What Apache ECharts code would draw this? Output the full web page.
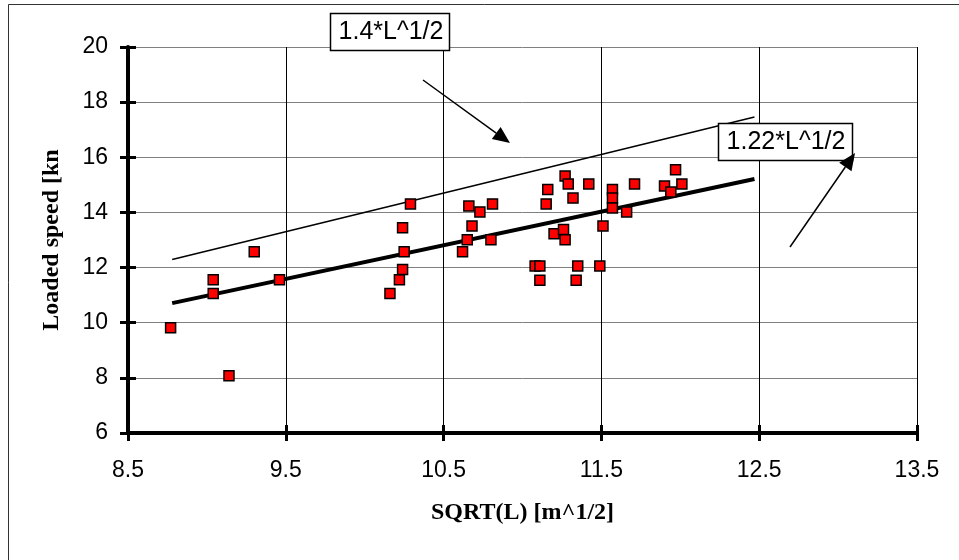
<!DOCTYPE html>
<html>
<head>
<meta charset="utf-8">
<script src="https://cdn.jsdelivr.net/npm/echarts@6/dist/echarts.min.js"></script>
<style>
html,body{margin:0;padding:0;background:#fff;}
#chart{width:959px;height:560px;}
</style>
</head>
<body>
<div id="chart"></div>
<script>
// Observed ships: [sqrt(L), loaded speed]
var shipSqrtL = [8.77, 9.04, 9.04, 9.14, 9.30, 9.46, 10.16, 10.22, 10.24, 10.25, 10.24, 10.29,
  10.62, 10.65, 10.66, 10.68, 10.73, 10.80, 10.81, 11.08, 11.11, 11.11, 11.15, 11.16, 11.20,
  11.26, 11.27, 11.27, 11.29, 11.32, 11.34, 11.35, 11.42, 11.49, 11.51, 11.57, 11.57, 11.57,
  11.66, 11.71, 11.90, 11.94, 11.97, 12.01];
var shipSpeed = [9.82, 11.56, 11.06, 8.08, 12.57, 11.56, 11.06, 11.56, 11.93, 12.57, 13.44, 14.31,
  12.57, 13.01, 14.23, 13.51, 14.02, 13.01, 14.31, 12.06, 12.06, 11.54, 14.31, 14.83, 13.23,
  13.38, 13.01, 15.32, 15.03, 14.52, 11.54, 12.06, 15.03, 12.06, 13.51, 14.83, 14.52, 14.16,
  14.02, 15.03, 14.96, 14.74, 15.55, 15.03];
// Reference lines 1.4*L^1/2 and 1.22*L^1/2 (read at their ends)
var lineX = [8.78, 12.47];
var upperLineY = [12.29, 17.46];
var lowerLineY = [10.71, 15.21];
var xTicks = [8.5, 9.5, 10.5, 11.5, 12.5, 13.5];
var yTicks = [6, 8, 10, 12, 14, 16, 18, 20];

var chart = echarts.init(document.getElementById('chart'), null, {renderer: 'canvas'});

var pts = shipSqrtL.map(function (x, i) { return [x, shipSpeed[i]]; });
var upper = lineX.map(function (x, i) { return [x, upperLineY[i]]; });
var lower = lineX.map(function (x, i) { return [x, lowerLineY[i]]; });

var sans = '"Liberation Sans", Arial, sans-serif';
var serif = '"Liberation Serif", "Times New Roman", serif';

function arrow(x0, y0, x1, y1) {
  var dx = x1 - x0, dy = y1 - y0, len = Math.sqrt(dx * dx + dy * dy);
  var ux = dx / len, uy = dy / len, hl = 17, hw = 7.5;
  var bx = x1 - ux * hl, by = y1 - uy * hl;
  return [
    {type: 'line', shape: {x1: x0, y1: y0, x2: bx, y2: by}, style: {stroke: '#000', lineWidth: 1.5}, z: 20},
    {type: 'polygon', shape: {points: [[x1, y1], [bx - uy * hw, by + ux * hw], [bx + uy * hw, by - ux * hw]]},
      style: {fill: '#000'}, z: 20}
  ];
}

var graphics = [
  {type: 'rect', shape: {x: 8.5, y: 4.5, width: 1000, height: 1000}, style: {fill: null, stroke: '#333', lineWidth: 1}, z: 0, silent: true},
  {type: 'rect', shape: {x: 330.5, y: 13.5, width: 119, height: 37}, style: {fill: '#fff', stroke: '#000', lineWidth: 1.5}, z: 20},
  {type: 'text', x: 391, y: 32, style: {text: '1.4*L^1/2', fill: '#000', font: '25px ' + sans, align: 'center', verticalAlign: 'middle'}, z: 21},
  {type: 'rect', shape: {x: 718.5, y: 123.5, width: 134, height: 37}, style: {fill: '#fff', stroke: '#000', lineWidth: 1.5}, z: 20},
  {type: 'text', x: 786, y: 142, style: {text: '1.22*L^1/2', fill: '#000', font: '25px ' + sans, align: 'center', verticalAlign: 'middle'}, z: 21}
].concat(arrow(423, 80, 510, 143)).concat(arrow(790, 247, 855, 153));

var option = {
  animation: false,
  backgroundColor: '#fff',
  grid: {left: 128, top: 47, width: 789, height: 386, containLabel: false},
  xAxis: [{
    type: 'value', min: 8.5, max: 13.5,
    name: 'SQRT(L) [m^1/2]', nameLocation: 'middle', nameGap: 68,
    nameTextStyle: {fontFamily: serif, fontWeight: 'bold', fontSize: 24, color: '#000'},
    axisLine: {show: true, onZero: false, lineStyle: {color: '#000', width: 4}},
    axisTick: {show: true, inside: false, length: 8, customValues: xTicks, lineStyle: {color: '#000', width: 3}},
    axisLabel: {customValues: xTicks, margin: 26, formatter: function (v) { return v.toFixed(1); }, fontFamily: sans, fontSize: 23, color: '#000'},
    splitLine: {show: true, lineStyle: {color: '#000', width: 1}}
  }, {
    type: 'value', min: 8.5, max: 13.5, position: 'bottom', offset: 0,
    axisLine: {show: false},
    axisTick: {show: true, inside: true, length: 8, customValues: xTicks, lineStyle: {color: '#000', width: 3}},
    axisLabel: {show: false},
    splitLine: {show: false}
  }],
  yAxis: [{
    type: 'value', min: 6, max: 20, interval: 2,
    name: 'Loaded speed [kn', nameLocation: 'middle', nameGap: 64, nameRotate: 90,
    nameTextStyle: {fontFamily: serif, fontWeight: 'bold', fontSize: 24, color: '#000'},
    axisLine: {show: true, onZero: false, lineStyle: {color: '#000', width: 4}},
    axisTick: {show: true, inside: false, length: 8, customValues: yTicks, lineStyle: {color: '#000', width: 3}},
    axisLabel: {customValues: yTicks, margin: 20, fontFamily: sans, fontSize: 23, color: '#000'},
    splitLine: {show: true, lineStyle: {color: '#808080', width: 1}}
  }, {
    type: 'value', min: 6, max: 20, interval: 2, position: 'left', offset: 0,
    axisLine: {show: false},
    axisTick: {show: true, inside: true, length: 8, customValues: yTicks, lineStyle: {color: '#000', width: 3}},
    axisLabel: {show: false},
    splitLine: {show: false}
  }],
  series: [{
    type: 'line', data: upper, symbol: 'none', lineStyle: {color: '#000', width: 1.5}, z: 3, silent: true
  }, {
    type: 'line', data: lower, symbol: 'none', lineStyle: {color: '#000', width: 4}, z: 3, silent: true
  }, {
    type: 'scatter', data: pts, symbol: 'rect', symbolSize: 10,
    itemStyle: {color: '#ff0000', borderColor: '#000', borderWidth: 1.5, opacity: 1}, z: 5
  }],
  graphic: graphics
};
chart.setOption(option);
</script>
</body>
</html>
